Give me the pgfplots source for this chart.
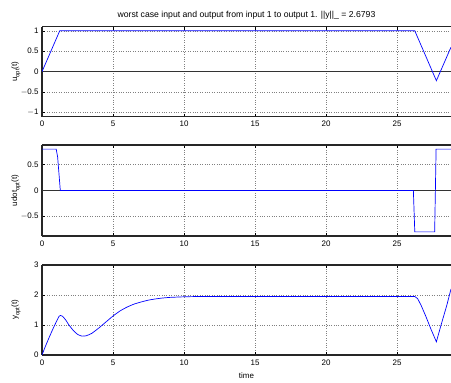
\documentclass[border=0pt]{standalone}
\usepackage{pgfplots}
\pgfplotsset{compat=1.18}
\usepackage{fontspec}
\setmainfont{Liberation Sans}
\definecolor{mblue}{RGB}{0,0,255}
\newcommand\sub[1]{\raisebox{-0.3em}{\fontsize{6}{6}\selectfont #1}}
\pgfplotsset{
  mstyle/.style={
    scale only axis,
    width=409bp, height=90bp,
    xmin=0, xmax=28.8,
    axis x line*=box, axis y line*=left,
    axis line style={-, line width=1.1pt, black!85},
    tick style={black, line width=0.5pt},
    major tick length=3bp,
    tick align=inside,
    xtick={0,5,10,15,20,25},
    grid=major,
    major grid style={dotted, line width=0.45pt, black!50},
    font=\fontsize{8}{9.6}\selectfont,
    /pgf/number format/assume math mode=true,
    every axis y label/.style={at={(axis description cs:0,0.5)}, xshift=-25bp, rotate=90, anchor=base},
    every axis x label/.style={at={(axis description cs:0.5,0)}, yshift=-23bp, anchor=base},
    every axis title/.style={at={(axis description cs:0.5,1)}, yshift=9bp, anchor=base, font=\fontsize{8.7}{10}\selectfont},
    xticklabel style={yshift=-1bp},
    clip=true,
  }
}
\begin{document}
\begin{tikzpicture}
\begin{axis}[mstyle, at={(42bp,-26.7bp)}, anchor=north west,
  ymin=-1.1, ymax=1.1, ytick={-1,-0.5,0,0.5,1},
  yticklabels={$-$1,$-$0.5,0,0.5,1},
  ylabel={u\sub{opt}(t)},
  title={worst case input and output from input 1 to output 1. ||y||\_ = 2.6793}]
\addplot[black!80, line width=1.1pt] coordinates {(0,0) (28.8,0)};
\addplot[mblue, line width=0.7pt] coordinates {(0,0) (1.25,1) (26.25,1) (27.77,-0.22) (28.8,0.6)};
\end{axis}
\begin{axis}[mstyle, at={(42bp,-145bp)}, anchor=north west, height=91bp,
  ymin=-0.88, ymax=0.88, ytick={-0.5,0,0.5},
  yticklabels={$-$0.5,0,0.5},
  ylabel={udot\sub{opt}(t)}]
\addplot[black!80, line width=1.1pt] coordinates {(0,0) (28.8,0)};
\addplot[mblue, line width=0.7pt] coordinates {(0,0.8) (1.0,0.8) (1.1,0.65) (1.29,0) (26.15,0) (26.25,-0.8) (27.65,-0.8) (27.75,0.8) (28.8,0.8)};
\end{axis}
\begin{axis}[mstyle, at={(42bp,-265bp)}, anchor=north west,
  ymin=0, ymax=3, ytick={0,1,2,3},
  ylabel={y\sub{opt}(t)}, xlabel={time}]
\addplot[mblue, line width=0.7pt, smooth, tension=0.3] coordinates {
(0,0) (0.25,0.3) (0.5,0.58) (0.75,0.85) (1.0,1.1) (1.2,1.29) (1.3,1.32) (1.45,1.29) (1.65,1.18) (1.9,1.0) (2.2,0.82) (2.5,0.69) (2.8,0.63) (3.1,0.64) (3.5,0.72) (4.0,0.9) (4.5,1.1) (5.0,1.3) (5.5,1.47) (6.0,1.6) (6.5,1.7) (7.0,1.77) (7.5,1.83) (8.0,1.87) (8.5,1.9) (9,1.92) (10,1.94) (11,1.95) (12,1.95) (26.25,1.95)};
\addplot[mblue, line width=0.7pt] coordinates {(26.25,1.95) (26.45,1.88) (26.7,1.65) (27.0,1.32) (27.4,0.85) (27.77,0.44) (28.1,1.0) (28.5,1.65) (28.8,2.2)};
\end{axis}
\pgfresetboundingbox
\useasboundingbox (0,0) rectangle (451bp,-383bp);
\end{tikzpicture}
\end{document}
